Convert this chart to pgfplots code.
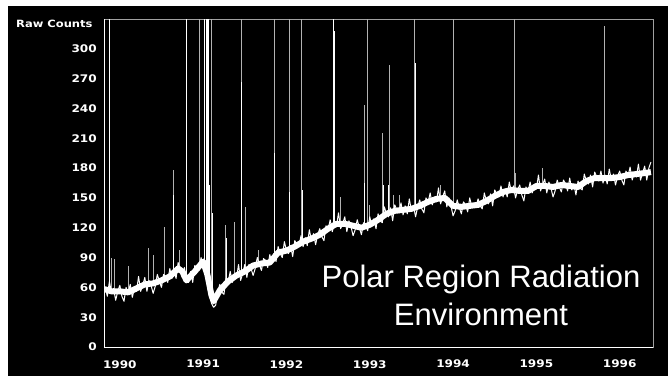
\documentclass[border=0pt]{standalone}
\usepackage{pgfplots}
\pgfplotsset{compat=1.18}
\usepackage{pgfplotstable}
\usepackage{fontspec}
\setmainfont{Liberation Sans}
\newfontfamily\tickfont[FakeStretch=1.15]{DejaVu Sans Bold}
\definecolor{spikegray}{rgb}{0.7,0.7,0.7}
\definecolor{framegray}{rgb}{0.63,0.63,0.63}
% t = years since 1990.0
\pgfplotstableread{
t y
-0.175 61
-0.15 51
-0.125 66
-0.10 54
-0.075 59
-0.05 47
-0.025 56
0.00 62
0.025 51
0.05 46
0.075 60
0.10 54
0.125 63
0.15 50
0.175 59
0.20 56
0.225 71
0.25 56
0.275 62
0.30 70
0.325 56
0.35 67
0.375 62
0.40 54
0.425 61
0.45 73
0.475 66
0.50 60
0.525 73
0.55 71
0.575 65
0.60 79
0.625 69
0.65 77
0.675 69
0.70 85
0.725 78
0.75 70
0.775 80
0.80 67
0.825 65
0.85 76
0.875 65
0.90 82
0.925 79
0.95 77
0.975 90
1.00 81
1.025 83
1.05 67
1.075 74
1.10 44
1.125 40
1.15 42
1.175 55
1.20 63
1.225 55
1.25 53
1.275 69
1.30 65
1.325 76
1.35 65
1.375 73
1.40 69
1.425 83
1.45 67
1.475 74
1.50 83
1.525 70
1.55 83
1.575 79
1.60 72
1.625 79
1.65 90
1.675 83
1.70 77
1.725 89
1.75 87
1.775 80
1.80 93
1.825 85
1.85 94
1.875 86
1.90 101
1.925 94
1.95 90
1.975 106
2.00 97
2.025 94
2.05 102
2.075 91
2.10 107
2.125 103
2.15 101
2.175 112
2.20 101
2.225 110
2.25 102
2.275 118
2.30 107
2.325 114
2.35 103
2.375 113
2.40 119
2.425 111
2.45 107
2.475 122
2.50 118
2.525 128
2.55 116
2.575 124
2.60 121
2.625 135
2.65 119
2.675 124
2.70 131
2.725 116
2.75 127
2.775 121
2.80 112
2.825 118
2.85 128
2.875 120
2.90 113
2.925 125
2.95 123
2.975 117
3.00 131
3.025 122
3.05 129
3.075 119
3.10 134
3.125 127
3.15 125
3.175 141
3.20 134
3.225 131
3.25 140
3.275 127
3.30 143
3.325 138
3.35 135
3.375 145
3.40 133
3.425 142
3.45 134
3.475 149
3.50 137
3.525 142
3.55 131
3.575 141
3.60 148
3.625 139
3.65 135
3.675 150
3.70 145
3.725 155
3.75 143
3.775 150
3.80 146
3.825 160
3.85 144
3.875 151
3.90 157
3.925 141
3.95 150
3.975 142
4.00 132
4.025 137
4.05 148
4.075 140
4.10 134
4.125 146
4.15 143
4.175 136
4.20 150
4.225 141
4.25 142
4.275 141
4.30 149
4.325 142
4.35 139
4.375 155
4.40 147
4.425 144
4.45 154
4.475 142
4.50 158
4.525 154
4.55 151
4.575 162
4.60 151
4.625 159
4.65 151
4.675 166
4.70 156
4.725 162
4.75 150
4.775 158
4.80 163
4.825 153
4.85 147
4.875 161
4.90 156
4.925 166
4.95 155
4.975 163
5.00 159
5.025 173
5.05 157
5.075 163
5.10 169
5.125 155
5.15 166
5.175 160
5.20 151
5.225 157
5.25 168
5.275 161
5.30 156
5.325 168
5.35 164
5.375 157
5.40 170
5.425 158
5.45 164
5.475 153
5.50 167
5.525 160
5.55 158
5.575 174
5.60 167
5.625 164
5.65 173
5.675 161
5.70 176
5.725 171
5.75 167
5.775 177
5.80 165
5.825 173
5.85 164
5.875 179
5.90 168
5.925 174
5.95 163
5.975 172
6.00 177
6.025 168
6.05 163
6.075 177
6.10 172
6.125 181
6.15 168
6.175 175
6.20 171
6.225 184
6.25 168
6.275 175
6.30 182
6.325 168
6.35 180
6.375 186
}\counts
% centre of the dense core of the band
\pgfplotstableread{
t y
-0.175 58
-0.10 56
0.00 56
0.10 55
0.20 59
0.30 63
0.40 64
0.50 67
0.60 71
0.70 79
0.75 76
0.80 67
0.90 76
1.00 86
1.05 73
1.10 52
1.125 46
1.20 57
1.30 66
1.40 72
1.50 76
1.60 82
1.70 84
1.80 85
1.90 95
2.00 97
2.10 101
2.20 106
2.30 109
2.40 113
2.50 119
2.60 124
2.70 124
2.80 122
2.90 120
3.00 123
3.10 128
3.20 134
3.30 137
3.40 138
3.50 139
3.60 142
3.70 146
3.80 149
3.90 150
4.00 142
4.10 141
4.20 142
4.30 143
4.40 147
4.50 152
4.60 156
4.70 158
4.80 157
4.90 157
5.00 162
5.10 162
5.20 161
5.30 163
5.40 162
5.50 161
5.60 167
5.70 170
5.80 170
5.90 170
6.00 171
6.10 173
6.20 174
6.30 175
6.375 176
}\core
\begin{document}
\begin{tikzpicture}[x=1pt,y=1pt]
\path[use as bounding box] (-104,-29) rectangle (564,347);
\fill[white] (-104,-29) rectangle (564,347);
\fill[black] (-96,-29) rectangle (564,341);
\begin{axis}[
  at={(0,0)}, anchor=south west,
  scale only axis, width=549pt, height=328pt,
  xmin=-0.19, xmax=6.40, ymin=0, ymax=330,
  axis line style={draw=framegray, line width=0.8pt},
  major tick length=0pt,
  xtick={0,1,2,3,4,5,6},
  xticklabels={1990,1991,1992,1993,1994,1995,1996},
  ytick={0,30,60,90,120,150,180,210,240,270,300},
  yticklabels={0,30,60,90,120,150,180,210,240,270,300},
  every tick label/.append style={font=\tickfont\fontsize{10.5}{12}\selectfont, text=white, inner sep=0pt},
  xticklabel style={anchor=north, yshift=-13pt},
  yticklabel style={anchor=east, xshift=-7pt},
  unbounded coords=jump,
]
\addplot[spikegray, line width=0.7pt] coordinates {
(-0.10,56) (-0.10,90) (-0.10,nan)
(-0.07,55) (-0.07,89) (-0.07,nan)
(0.10,55) (0.10,82) (0.10,nan)
(0.34,63) (0.34,100) (0.34,nan)
(0.40,64) (0.40,93) (0.40,nan)
(0.53,68) (0.53,121) (0.53,nan)
(0.64,73) (0.64,178) (0.64,nan)
(0.72,80) (0.72,98) (0.72,nan)
(0.95,80) (0.95,340) (0.95,nan)
(1.10,52) (1.10,340) (1.10,nan)
(1.27,64) (1.27,123) (1.27,nan)
(1.38,71) (1.38,126) (1.38,nan)
(1.455,73) (1.455,340) (1.455,nan)
(1.51,76) (1.51,141) (1.51,nan)
(1.66,83) (1.66,98) (1.66,nan)
(1.85,91) (1.85,340) (1.85,nan)
(2.03,98) (2.03,340) (2.03,nan)
(2.18,105) (2.18,340) (2.18,nan)
(2.65,125) (2.65,151) (2.65,nan)
(2.935,120) (2.935,243) (2.935,nan)
(2.97,122) (2.97,340) (2.97,nan)
(3.00,123) (3.00,143) (3.00,nan)
(3.15,131) (3.15,215) (3.15,nan)
(3.23,135) (3.23,284) (3.23,nan)
(3.28,136) (3.28,153) (3.28,nan)
(3.36,138) (3.36,153) (3.36,nan)
(3.54,139) (3.54,340) (3.54,nan)
(3.85,150) (3.85,163) (3.85,nan)
(4.00,142) (4.00,340) (4.00,nan)
(4.73,158) (4.73,340) (4.73,nan)
(4.745,158) (4.745,175) (4.745,nan)
(5.07,163) (5.07,180) (5.07,nan)
(5.82,170) (5.82,323) (5.82,nan)
};
\addplot[white, line width=1pt] coordinates {
(-0.12,57) (-0.12,340) (-0.12,nan)
(0.65,73) (0.65,153) (0.65,nan)
(0.80,67) (0.80,340) (0.80,nan)
(1.02,81) (1.02,340) (1.02,nan)
(1.035,77) (1.035,340) (1.035,nan)
(1.05,73) (1.05,340) (1.05,nan)
(1.06,70) (1.06,340) (1.06,nan)
(1.08,63) (1.08,163) (1.08,nan)
(1.11,50) (1.11,135) (1.11,nan)
(1.28,64) (1.28,110) (1.28,nan)
(1.465,73) (1.465,267) (1.465,nan)
(1.86,92) (1.86,195) (1.86,nan)
(2.04,98) (2.04,156) (2.04,nan)
(2.19,105) (2.19,158) (2.19,nan)
(2.56,121) (2.56,340) (2.56,nan)
(2.58,122) (2.58,318) (2.58,nan)
(2.94,120) (2.94,165) (2.94,nan)
(3.16,131) (3.16,163) (3.16,nan)
(3.22,135) (3.22,163) (3.22,nan)
(3.55,139) (3.55,286) (3.55,nan)
};
\addplot[white, line width=6pt, line join=round] table[x=t, y=y] {\core};
\addplot[white, line width=1pt, line join=round] table[x=t, y=y] {\counts};
\draw[white, line width=0.8pt] (rel axis cs:0,1) -- (rel axis cs:0,0) -- (rel axis cs:1,0);
\end{axis}
\node[anchor=base west, text=white, inner sep=0pt, font=\tickfont\fontsize{10}{12}\selectfont] at (-88,320) {Raw Counts};
\node[anchor=base, text=white, inner sep=0pt, font=\fontsize{31}{36}\selectfont] at (377,60) {Polar Region Radiation};
\node[anchor=base, text=white, inner sep=0pt, font=\fontsize{31}{36}\selectfont] at (377,22) {Environment};
\end{tikzpicture}
\end{document}
